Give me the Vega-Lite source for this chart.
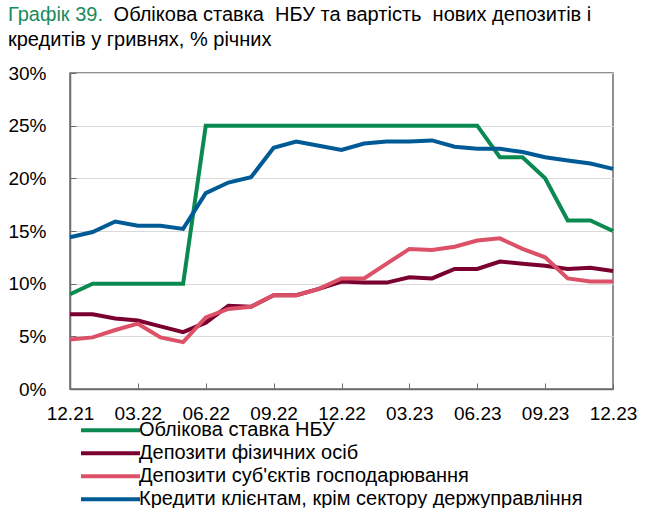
{
  "$schema": "https://vega.github.io/schema/vega-lite/v6.json",
  "width": 543,
  "height": 316,
  "autosize": "none",
  "padding": {"left": 70, "top": 73, "right": 38, "bottom": 119},
  "background": "white",
  "title": {
    "text": "Графік 39.",
    "subtitle": [
      "\u200b\u00a0\u00a0\u00a0\u00a0\u00a0\u00a0\u00a0\u00a0\u00a0\u00a0\u00a0\u00a0\u00a0\u00a0\u00a0\u00a0\u00a0\u00a0\u00a0Облікова ставка\u00a0 НБУ та вартість\u00a0 нових депозитів і",
      "кредитів у гривнях, % річних"
    ],
    "anchor": "start",
    "frame": "group",
    "orient": "top",
    "dx": -62,
    "offset": 14,
    "fontSize": 20,
    "fontWeight": "normal",
    "color": "#1b8a5a",
    "subtitleFontSize": 20,
    "subtitleColor": "#000000",
    "subtitlePadding": -20,
    "subtitleLineHeight": 25
  },
  "data": {
    "values": [
      {"m": "12.21", "s": "Облікова ставка НБУ", "v": 9},
      {"m": "01.22", "s": "Облікова ставка НБУ", "v": 10},
      {"m": "02.22", "s": "Облікова ставка НБУ", "v": 10},
      {"m": "03.22", "s": "Облікова ставка НБУ", "v": 10},
      {"m": "04.22", "s": "Облікова ставка НБУ", "v": 10},
      {"m": "05.22", "s": "Облікова ставка НБУ", "v": 10},
      {"m": "06.22", "s": "Облікова ставка НБУ", "v": 25},
      {"m": "07.22", "s": "Облікова ставка НБУ", "v": 25},
      {"m": "08.22", "s": "Облікова ставка НБУ", "v": 25},
      {"m": "09.22", "s": "Облікова ставка НБУ", "v": 25},
      {"m": "10.22", "s": "Облікова ставка НБУ", "v": 25},
      {"m": "11.22", "s": "Облікова ставка НБУ", "v": 25},
      {"m": "12.22", "s": "Облікова ставка НБУ", "v": 25},
      {"m": "01.23", "s": "Облікова ставка НБУ", "v": 25},
      {"m": "02.23", "s": "Облікова ставка НБУ", "v": 25},
      {"m": "03.23", "s": "Облікова ставка НБУ", "v": 25},
      {"m": "04.23", "s": "Облікова ставка НБУ", "v": 25},
      {"m": "05.23", "s": "Облікова ставка НБУ", "v": 25},
      {"m": "06.23", "s": "Облікова ставка НБУ", "v": 25},
      {"m": "07.23", "s": "Облікова ставка НБУ", "v": 22},
      {"m": "08.23", "s": "Облікова ставка НБУ", "v": 22},
      {"m": "09.23", "s": "Облікова ставка НБУ", "v": 20},
      {"m": "10.23", "s": "Облікова ставка НБУ", "v": 16},
      {"m": "11.23", "s": "Облікова ставка НБУ", "v": 16},
      {"m": "12.23", "s": "Облікова ставка НБУ", "v": 15},

      {"m": "12.21", "s": "Депозити фізичних осіб", "v": 7.1},
      {"m": "01.22", "s": "Депозити фізичних осіб", "v": 7.1},
      {"m": "02.22", "s": "Депозити фізичних осіб", "v": 6.7},
      {"m": "03.22", "s": "Депозити фізичних осіб", "v": 6.5},
      {"m": "04.22", "s": "Депозити фізичних осіб", "v": 5.95},
      {"m": "05.22", "s": "Депозити фізичних осіб", "v": 5.4},
      {"m": "06.22", "s": "Депозити фізичних осіб", "v": 6.3},
      {"m": "07.22", "s": "Депозити фізичних осіб", "v": 7.9},
      {"m": "08.22", "s": "Депозити фізичних осіб", "v": 7.8},
      {"m": "09.22", "s": "Депозити фізичних осіб", "v": 8.9},
      {"m": "10.22", "s": "Депозити фізичних осіб", "v": 8.9},
      {"m": "11.22", "s": "Депозити фізичних осіб", "v": 9.5},
      {"m": "12.22", "s": "Депозити фізичних осіб", "v": 10.2},
      {"m": "01.23", "s": "Депозити фізичних осіб", "v": 10.1},
      {"m": "02.23", "s": "Депозити фізичних осіб", "v": 10.1},
      {"m": "03.23", "s": "Депозити фізичних осіб", "v": 10.6},
      {"m": "04.23", "s": "Депозити фізичних осіб", "v": 10.5},
      {"m": "05.23", "s": "Депозити фізичних осіб", "v": 11.4},
      {"m": "06.23", "s": "Депозити фізичних осіб", "v": 11.4},
      {"m": "07.23", "s": "Депозити фізичних осіб", "v": 12.1},
      {"m": "08.23", "s": "Депозити фізичних осіб", "v": 11.9},
      {"m": "09.23", "s": "Депозити фізичних осіб", "v": 11.7},
      {"m": "10.23", "s": "Депозити фізичних осіб", "v": 11.4},
      {"m": "11.23", "s": "Депозити фізичних осіб", "v": 11.5},
      {"m": "12.23", "s": "Депозити фізичних осіб", "v": 11.2},

      {"m": "12.21", "s": "Депозити суб'єктів господарювання", "v": 4.7},
      {"m": "01.22", "s": "Депозити суб'єктів господарювання", "v": 4.9},
      {"m": "02.22", "s": "Депозити суб'єктів господарювання", "v": 5.6},
      {"m": "03.22", "s": "Депозити суб'єктів господарювання", "v": 6.2},
      {"m": "04.22", "s": "Депозити суб'єктів господарювання", "v": 4.9},
      {"m": "05.22", "s": "Депозити суб'єктів господарювання", "v": 4.45},
      {"m": "06.22", "s": "Депозити суб'єктів господарювання", "v": 6.8},
      {"m": "07.22", "s": "Депозити суб'єктів господарювання", "v": 7.6},
      {"m": "08.22", "s": "Депозити суб'єктів господарювання", "v": 7.8},
      {"m": "09.22", "s": "Депозити суб'єктів господарювання", "v": 8.9},
      {"m": "10.22", "s": "Депозити суб'єктів господарювання", "v": 8.9},
      {"m": "11.22", "s": "Депозити суб'єктів господарювання", "v": 9.5},
      {"m": "12.22", "s": "Депозити суб'єктів господарювання", "v": 10.5},
      {"m": "01.23", "s": "Депозити суб'єктів господарювання", "v": 10.5},
      {"m": "02.23", "s": "Депозити суб'єктів господарювання", "v": 11.9},
      {"m": "03.23", "s": "Депозити суб'єктів господарювання", "v": 13.3},
      {"m": "04.23", "s": "Депозити суб'єктів господарювання", "v": 13.2},
      {"m": "05.23", "s": "Депозити суб'єктів господарювання", "v": 13.5},
      {"m": "06.23", "s": "Депозити суб'єктів господарювання", "v": 14.1},
      {"m": "07.23", "s": "Депозити суб'єктів господарювання", "v": 14.3},
      {"m": "08.23", "s": "Депозити суб'єктів господарювання", "v": 13.3},
      {"m": "09.23", "s": "Депозити суб'єктів господарювання", "v": 12.5},
      {"m": "10.23", "s": "Депозити суб'єктів господарювання", "v": 10.5},
      {"m": "11.23", "s": "Депозити суб'єктів господарювання", "v": 10.2},
      {"m": "12.23", "s": "Депозити суб'єктів господарювання", "v": 10.2},

      {"m": "12.21", "s": "Кредити клієнтам, крім сектору держуправління", "v": 14.4},
      {"m": "01.22", "s": "Кредити клієнтам, крім сектору держуправління", "v": 14.9},
      {"m": "02.22", "s": "Кредити клієнтам, крім сектору держуправління", "v": 15.9},
      {"m": "03.22", "s": "Кредити клієнтам, крім сектору держуправління", "v": 15.5},
      {"m": "04.22", "s": "Кредити клієнтам, крім сектору держуправління", "v": 15.5},
      {"m": "05.22", "s": "Кредити клієнтам, крім сектору держуправління", "v": 15.2},
      {"m": "06.22", "s": "Кредити клієнтам, крім сектору держуправління", "v": 18.6},
      {"m": "07.22", "s": "Кредити клієнтам, крім сектору держуправління", "v": 19.6},
      {"m": "08.22", "s": "Кредити клієнтам, крім сектору держуправління", "v": 20.1},
      {"m": "09.22", "s": "Кредити клієнтам, крім сектору держуправління", "v": 22.9},
      {"m": "10.22", "s": "Кредити клієнтам, крім сектору держуправління", "v": 23.5},
      {"m": "11.22", "s": "Кредити клієнтам, крім сектору держуправління", "v": 23.1},
      {"m": "12.22", "s": "Кредити клієнтам, крім сектору держуправління", "v": 22.7},
      {"m": "01.23", "s": "Кредити клієнтам, крім сектору держуправління", "v": 23.3},
      {"m": "02.23", "s": "Кредити клієнтам, крім сектору держуправління", "v": 23.5},
      {"m": "03.23", "s": "Кредити клієнтам, крім сектору держуправління", "v": 23.5},
      {"m": "04.23", "s": "Кредити клієнтам, крім сектору держуправління", "v": 23.6},
      {"m": "05.23", "s": "Кредити клієнтам, крім сектору держуправління", "v": 23.0},
      {"m": "06.23", "s": "Кредити клієнтам, крім сектору держуправління", "v": 22.8},
      {"m": "07.23", "s": "Кредити клієнтам, крім сектору держуправління", "v": 22.8},
      {"m": "08.23", "s": "Кредити клієнтам, крім сектору держуправління", "v": 22.5},
      {"m": "09.23", "s": "Кредити клієнтам, крім сектору держуправління", "v": 22.0},
      {"m": "10.23", "s": "Кредити клієнтам, крім сектору держуправління", "v": 21.7},
      {"m": "11.23", "s": "Кредити клієнтам, крім сектору держуправління", "v": 21.4},
      {"m": "12.23", "s": "Кредити клієнтам, крім сектору держуправління", "v": 20.9}
    ]
  },
  "mark": {"type": "line", "strokeWidth": 4, "strokeJoin": "miter"},
  "encoding": {
    "x": {
      "field": "m",
      "type": "ordinal",
      "sort": null,
      "scale": {"type": "point", "padding": 0},
      "axis": {
        "title": null,
        "values": ["12.21", "03.22", "06.22", "09.22", "12.22", "03.23", "06.23", "09.23", "12.23"],
        "labelAngle": 0,
        "labelPadding": 21,
        "tickSize": -6,
        "grid": false
      }
    },
    "y": {
      "field": "v",
      "type": "quantitative",
      "scale": {"domain": [0, 30], "nice": false},
      "axis": {
        "title": null,
        "values": [0, 5, 10, 15, 20, 25, 30],
        "labelExpr": "datum.value + '%'",
        "labelPadding": 30,
        "tickSize": -6,
        "grid": true
      }
    },
    "color": {
      "field": "s",
      "type": "nominal",
      "sort": null,
      "scale": {
        "domain": ["Облікова ставка НБУ", "Депозити фізичних осіб", "Депозити суб'єктів господарювання", "Кредити клієнтам, крім сектору держуправління"],
        "range": ["#0a8a50", "#7a0030", "#dc5068", "#005a96"]
      },
      "legend": {
        "title": null,
        "orient": "none",
        "legendX": 9,
        "legendY": 348,
        "direction": "vertical",
        "symbolType": "stroke",
        "symbolSize": 3481,
        "symbolStrokeWidth": 4,
        "labelFontSize": 20,
        "labelColor": "#000000",
        "labelLimit": 0,
        "labelOffset": -3,
        "clipHeight": 18.4,
        "rowPadding": 2,
        "padding": 0
      }
    }
  },
  "config": {
    "font": "Liberation Sans",
    "view": {"stroke": "#6d6d6d", "strokeWidth": 1.5},
    "axis": {
      "labelFontSize": 19,
      "labelColor": "#000000",
      "domainColor": "#6d6d6d",
      "domainWidth": 1.5,
      "tickColor": "#6d6d6d",
      "tickWidth": 1,
      "gridColor": "#d9d9d9",
      "gridWidth": 1
    },
    "legend": {"symbolStrokeWidth": 4}
  }
}
